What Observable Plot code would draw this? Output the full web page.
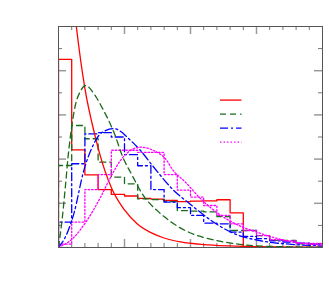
<!DOCTYPE html>
<html><head><meta charset="utf-8">
<script src="https://cdn.jsdelivr.net/npm/d3@7"></script>
<script src="https://cdn.jsdelivr.net/npm/@observablehq/plot@0.6"></script>
<style>html,body{margin:0;padding:0;background:#fff;}#chart{width:329px;height:289px;}</style>
</head><body><div id="chart"></div>
<script>
// bin left edges (bin width 0.2)
const binLeft = [0,0.2,0.4,0.6,0.8,1.0,1.2,1.4,1.6,1.8,2.0,2.2,2.4,2.6,2.8,3.0,3.2,3.4,3.6,3.8];
const binEnd = 4.0;

// histogram heights
const redHist     = [0.851,0.442,0.329,0.262,0.240,0.233,0.222,0.219,0.213,0.208,0.210,0.211,0.216,0.157,0,0,0,0,0,0];
const greenHist   = [0.371,0.552,0.492,0.386,0.318,0.288,0.220,0.217,0.208,0.167,0.165,0.161,0.140,0.077,0.077,0.054,0.032,0.032,0.017,0.017];
const blueHist    = [0.115,0.379,0.514,0.520,0.500,0.420,0.370,0.262,0.205,0.180,0.145,0.110,0.107,0.070,0.050,0.040,0.030,0.025,0.020,0.015];
const magentaHist = [0.015,0.115,0.262,0.330,0.440,0.440,0.430,0.430,0.330,0.260,0.228,0.190,0.145,0.107,0.077,0.054,0.035,0.030,0.020,0.018];

// smooth curves
const redCurveX = [0.20,0.27,0.40,0.55,0.70,0.81,1.0,1.2,1.4,1.6,1.85,2.2,2.6,3.0,3.5,4.0];
const redCurveY = [1.19,1.00,0.72,0.51,0.35,0.265,0.17,0.105,0.067,0.043,0.025,0.013,0.007,0.004,0.002,0.001];

const greenCurveX = [0,0.056,0.106,0.147,0.182,0.258,0.333,0.409,0.561,0.662,0.788,0.853,0.965,1.117,1.268,1.520,1.723,1.974,2.329,2.682,2.98,3.5,4.0];
const greenCurveY = [0,0.130,0.281,0.416,0.507,0.647,0.707,0.733,0.685,0.632,0.557,0.511,0.416,0.326,0.243,0.160,0.112,0.069,0.036,0.017,0.008,0.003,0.001];

const blueCurveX = [0,0.10,0.232,0.383,0.535,0.611,0.712,0.838,0.939,1.041,1.242,1.444,1.747,2.0,2.3,2.606,3.11,3.5,4.0];
const blueCurveY = [0,0.045,0.152,0.348,0.469,0.507,0.529,0.538,0.526,0.499,0.439,0.363,0.258,0.195,0.125,0.070,0.028,0.015,0.007];

const magentaCurveX = [0,0.23,0.43,0.636,0.788,0.939,1.09,1.24,1.44,1.64,1.72,1.924,2.18,2.43,2.68,2.98,3.5,4.0];
const magentaCurveY = [0,0.045,0.122,0.227,0.317,0.394,0.439,0.454,0.439,0.394,0.356,0.295,0.213,0.152,0.107,0.072,0.028,0.010];

const xMajor = [1,2,3];
const xMinor = [0.2,0.4,0.6,0.8,1.2,1.4,1.6,1.8,2.2,2.4,2.6,2.8,3.2,3.4,3.6,3.8];
const yMajor = [0.2,0.4,0.6,0.8];
const yMinor = [0.1,0.3,0.5,0.7,0.9];

const RED = "#ff0000", GREEN = "#1a6b1a", BLUE = "#0000ff", MAGENTA = "#ff00ff";

function stepData(vals) {
  const pts = [{x: binLeft[0], y: 0}];
  vals.forEach((v, i) => pts.push({x: binLeft[i], y: v}));
  pts.push({x: binEnd, y: vals[vals.length - 1]});
  return pts;
}
function curveData(xs, ys) { return xs.map((x, i) => ({x, y: ys[i]})); }

const W = 329, H = 289, mL = 58, mR = 7, mT = 26, mB = 42;
const fw = W - mL - mR, fh = H - mT - mB;
const majLen = 8, minLen = 4;

const series = [
  {hist: redHist, cx: redCurveX, cy: redCurveY, color: RED, dash: null},
  {hist: greenHist, cx: greenCurveX, cy: greenCurveY, color: GREEN, dash: "6,4"},
  {hist: blueHist, cx: blueCurveX, cy: blueCurveY, color: BLUE, dash: "8,3,2,3"},
  {hist: magentaHist, cx: magentaCurveX, cy: magentaCurveY, color: MAGENTA, dash: "1.5,2"}
];

const marks = [];
// ticks (inward, all four sides)
const majStyle = {stroke: "#9a9a9a", strokeWidth: 1.5};
const minStyle = {stroke: "#777", strokeWidth: 1};
marks.push(Plot.tickX(xMajor, {x: d => d, insetTop: fh - majLen, ...majStyle}));
marks.push(Plot.tickX(xMajor, {x: d => d, insetBottom: fh - majLen, ...majStyle}));
marks.push(Plot.tickX(xMinor, {x: d => d, insetTop: fh - minLen, ...minStyle}));
marks.push(Plot.tickX(xMinor, {x: d => d, insetBottom: fh - minLen, ...minStyle}));
marks.push(Plot.tickY(yMajor, {y: d => d, insetRight: fw - majLen, ...majStyle}));
marks.push(Plot.tickY(yMajor, {y: d => d, insetLeft: fw - majLen, ...majStyle}));
marks.push(Plot.tickY(yMinor, {y: d => d, insetRight: fw - minLen, ...minStyle}));
marks.push(Plot.tickY(yMinor, {y: d => d, insetLeft: fw - minLen, ...minStyle}));

for (const s of series) {
  marks.push(Plot.line(stepData(s.hist), {x: "x", y: "y", curve: "step-after", stroke: s.color, strokeWidth: 1.3, strokeDasharray: s.dash, clip: true}));
}
for (const s of series) {
  marks.push(Plot.line(curveData(s.cx, s.cy), {x: "x", y: "y", curve: "monotone-x", stroke: s.color, strokeWidth: 1.3, strokeDasharray: s.dash, clip: true}));
}
// legend samples (no text in the original)
const legX1 = 2.455, legX2 = 2.78, legTop = 0.667, legStep = 0.0635;
series.forEach((s, i) => {
  marks.push(Plot.ruleY([legTop - i * legStep], {x1: legX1, x2: legX2, stroke: s.color, strokeWidth: 1.3, strokeDasharray: s.dash}));
});
marks.push(Plot.frame({stroke: "#555", strokeWidth: 1}));

const plot = Plot.plot({
  width: W, height: H,
  marginLeft: mL, marginRight: mR, marginTop: mT, marginBottom: mB,
  x: {domain: [0, 4], axis: null},
  y: {domain: [0, 1], axis: null},
  style: {background: "#fff"},
  marks
});
document.getElementById("chart").appendChild(plot);
</script>
</body></html>
